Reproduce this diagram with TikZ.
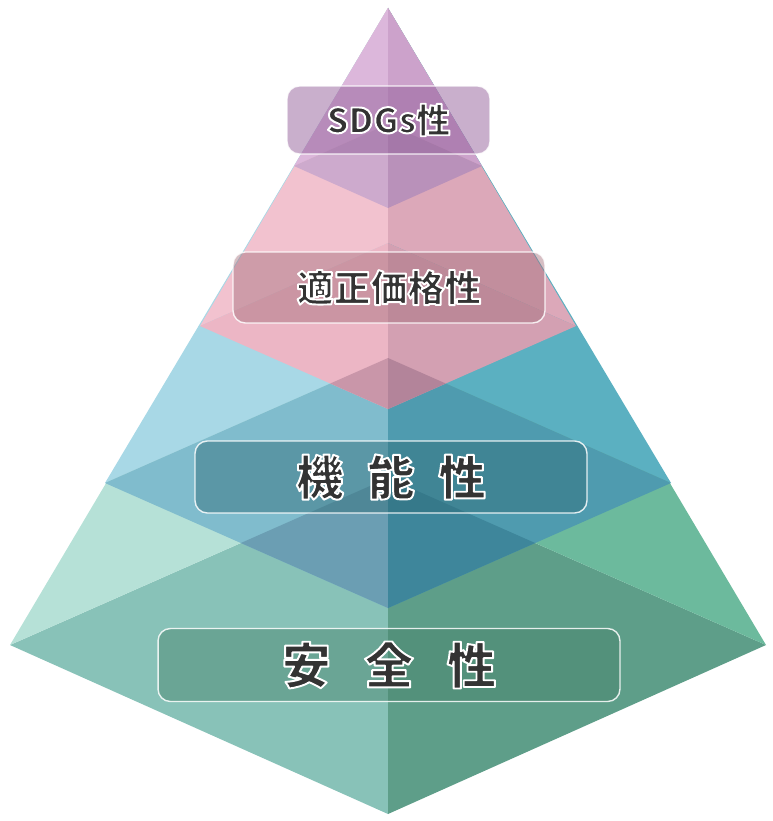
\documentclass[tikz,border=0pt]{standalone}
\usepackage{fontspec}
\newfontfamily\jpfont{Noto Sans CJK JP}

% layer colours: Up = above the kite, Kite = the kite, Ov = overlap with the layer below
\definecolor{gUpL}{HTML}{B6E1D7}
\definecolor{gUpR}{HTML}{6CBA9D}
\definecolor{gKiteL}{HTML}{88C2B8}
\definecolor{gKiteR}{HTML}{5E9E89}
\definecolor{bUpL}{HTML}{A8D8E6}
\definecolor{bUpR}{HTML}{5BB0C1}
\definecolor{bKiteL}{HTML}{80BCCD}
\definecolor{bKiteR}{HTML}{4F9BAF}
\definecolor{bOvL}{HTML}{6B9EB3}
\definecolor{bOvR}{HTML}{3E869B}
\definecolor{pUpL}{HTML}{F2C2CF}
\definecolor{pUpR}{HTML}{DCA8B9}
\definecolor{pKiteL}{HTML}{ECB6C5}
\definecolor{pKiteR}{HTML}{D3A0B2}
\definecolor{pOvL}{HTML}{C996A9}
\definecolor{pOvR}{HTML}{B3849A}
\definecolor{uUpL}{HTML}{DCB7DB}
\definecolor{uUpR}{HTML}{CCA2CB}
\definecolor{uKiteL}{HTML}{CDAACD}
\definecolor{uKiteR}{HTML}{B991BA}
% box fills
\definecolor{uBox}{HTML}{93609A}
\definecolor{pBox}{HTML}{A46F7B}
\definecolor{bBox}{HTML}{2E6B77}
\definecolor{gBox}{HTML}{47836B}
\definecolor{labelgray}{HTML}{333333}

\tikzset{
  layerbox/.style={rounded corners=7pt, draw=white, line width=0.8pt,
    draw opacity=0.85, fill opacity=0.45, inner sep=0pt},
  layerlabel/.style={inner sep=0pt, text=labelgray},
}

% dark label with a white rim (fill and stroke the glyphs)
\newcommand{\rimtext}[2]{%
  {\jpfont\bfseries\fontsize{#1}{#1}\selectfont\color{labelgray}%
   \special{pdf:literal direct 1.1 w 1 j 1 1 1 RG 2 Tr}#2%
   \special{pdf:literal direct 0 Tr}}}

\begin{document}
\begin{tikzpicture}[x=0.02cm,y=-0.02cm]
\useasboundingbox (0,0) rectangle (773,821);

\coordinate (apex) at (388,8);
% green
\coordinate (gL) at (10,645);
\coordinate (gT) at (388,478);
\coordinate (gB) at (388,814);
\coordinate (gR) at (766,645);
% blue
\coordinate (bL) at (105,483);
\coordinate (bT) at (388,358);
\coordinate (bB) at (388,608);
\coordinate (bR) at (671,483);
% pink
\coordinate (pL) at (200,326);
\coordinate (pT) at (388,243);
\coordinate (pB) at (388,409);
\coordinate (pR) at (576,326);
% purple
\coordinate (uL) at (294,166);
\coordinate (uT) at (388,124);
\coordinate (uB) at (388,208);
\coordinate (uR) at (482,166);

% green layer
\fill[gKiteL] (gT) -- (gL) -- (gB) -- cycle;
\fill[gKiteR] (gT) -- (gR) -- (gB) -- cycle;
\fill[gUpL] (apex) -- (gL) -- (gT) -- cycle;
\fill[gUpR] (apex) -- (gR) -- (gT) -- cycle;

% blue layer
\fill[bUpL] (apex) -- (bL) -- (bT) -- cycle;
\fill[bUpR] (apex) -- (bR) -- (bT) -- cycle;
\fill[bKiteL] (bT) -- (bL) -- (bB) -- cycle;
\fill[bKiteR] (bT) -- (bR) -- (bB) -- cycle;
\begin{scope}
  \clip (gT) -- (gL) -- (gB) -- (gR) -- cycle;
  \fill[bOvL] (bT) -- (bL) -- (bB) -- cycle;
  \fill[bOvR] (bT) -- (bR) -- (bB) -- cycle;
\end{scope}

% pink layer
\fill[pUpL] (apex) -- (pL) -- (pT) -- cycle;
\fill[pUpR] (apex) -- (pR) -- (pT) -- cycle;
\fill[pKiteL] (pT) -- (pL) -- (pB) -- cycle;
\fill[pKiteR] (pT) -- (pR) -- (pB) -- cycle;
\begin{scope}
  \clip (bT) -- (bL) -- (bB) -- (bR) -- cycle;
  \fill[pOvL] (pT) -- (pL) -- (pB) -- cycle;
  \fill[pOvR] (pT) -- (pR) -- (pB) -- cycle;
\end{scope}

% purple layer
\fill[uUpL] (apex) -- (uL) -- (uT) -- cycle;
\fill[uUpR] (apex) -- (uR) -- (uT) -- cycle;
\fill[uKiteL] (uT) -- (uL) -- (uB) -- cycle;
\fill[uKiteR] (uT) -- (uR) -- (uB) -- cycle;

% boxes
\node[layerbox, fill=uBox, fill opacity=0.5, minimum width=4.06cm, minimum height=1.36cm] (sdgsbox) at (388.5,120) {};
\node[layerbox, fill=pBox, minimum width=6.24cm, minimum height=1.42cm] (pricebox) at (389,287.5) {};
\node[layerbox, fill=bBox, minimum width=7.84cm, minimum height=1.44cm] (funcbox) at (391,477) {};
\node[layerbox, fill=gBox, minimum width=9.24cm, minimum height=1.46cm] (safebox) at (389,665) {};

% labels
\node[layerlabel] (sdgs) at (sdgsbox.center) {\rimtext{19.5pt}{SDGs性}};
\node[layerlabel] (price) at (pricebox.center) {\rimtext{21pt}{適正価格性}};
\node[layerlabel] (func) at (funcbox.center) {\rimtext{27pt}{機\hspace{0.5em}能\hspace{0.5em}性}};
\node[layerlabel] (safe) at (safebox.center) {\rimtext{28pt}{安\hspace{0.68em}全\hspace{0.68em}性}};

\end{tikzpicture}
\end{document}
